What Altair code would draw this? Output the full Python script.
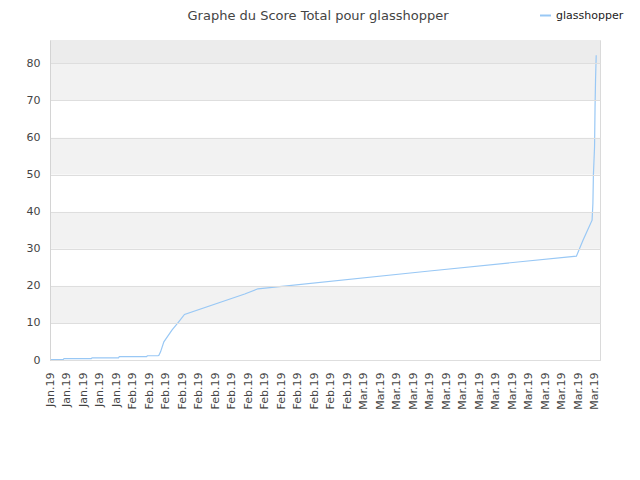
import altair as alt
import pandas as pd

# x tick labels (one per tick index)
tick_labels = ["Jan.19"] * 5 + ["Feb.19"] * 14 + ["Mar.19"] * 15

# score series (x in tick-index units, y = total score)
series_x = [0.0, 0.8, 0.85, 2.5, 2.55, 4.15, 4.2, 5.85, 5.9, 6.55, 6.6, 6.7, 6.9, 7.4, 7.8, 8.15,
            11.8, 12.6, 23.0, 28.5, 31.9, 32.3, 32.85, 32.9, 32.93, 33.0, 33.03, 33.06, 33.1]
series_y = [0.1, 0.1, 0.35, 0.35, 0.6, 0.6, 0.9, 0.9, 1.15, 1.15, 1.25, 2.2, 4.9, 8.1, 10.3, 12.3,
            17.8, 19.2, 24.0, 26.5, 28.0, 32.3, 37.7, 42.2, 49.9, 57.5, 68.3, 75.5, 82.2]
series_name = "glasshopper"

# background bands
band_lo = [0, 10, 20, 30, 40, 50, 60, 70, 80]
band_hi = [10, 20, 30, 40, 50, 60, 70, 80, 86.3]
band_col = ["#ffffff", "#f2f2f2", "#ffffff", "#f2f2f2", "#ffffff", "#f2f2f2", "#ffffff", "#f2f2f2", "#ececec"]
y_ticks = [0, 10, 20, 30, 40, 50, 60, 70, 80]

X_MAX = 33.33
Y_MAX = 86.3

line_df = pd.DataFrame({"x": series_x, "y": series_y, "name": series_name})
band_df = pd.DataFrame({"lo": band_lo, "hi": band_hi, "c": band_col})

label_expr = "[" + ",".join('"%s"' % s for s in tick_labels) + "][datum.value]"

xscale = alt.Scale(domain=[0, X_MAX], nice=False, zero=False)
yscale = alt.Scale(domain=[0, Y_MAX], nice=False)

yaxis = alt.Axis(values=y_ticks, title=None, ticks=False,
                 labelPadding=10, labelFontSize=11, labelColor="#444444",
                 labelFont="DejaVu Sans", grid=True, gridColor="#dedede",
                 labelOverlap=False, zindex=1,
                 domain=True, domainColor="#d4d4d4")

bands = alt.Chart(band_df).mark_rect().encode(
    x=alt.value(0), x2=alt.value(550),
    y=alt.Y("lo:Q", scale=yscale, axis=yaxis),
    y2="hi:Q",
    color=alt.Color("c:N", scale=None, legend=None),
)

line = alt.Chart(line_df).mark_line(strokeWidth=1.2, interpolate="linear").encode(
    x=alt.X("x:Q", scale=xscale,
            axis=alt.Axis(values=list(range(len(tick_labels))), labelExpr=label_expr,
                          labelAngle=-90, title=None, ticks=False, labelPadding=12,
                          labelFontSize=11, labelColor="#444444", labelFont="DejaVu Sans",
                          grid=False, domain=True, domainColor="#d4d4d4", labelOverlap=False)),
    y=alt.Y("y:Q", scale=yscale, axis=yaxis),
    color=alt.Color("name:N", scale=alt.Scale(range=["#99c8f5"]),
                    legend=alt.Legend(title=None, orient="none", legendX=489, legendY=-31,
                                      symbolType="stroke", symbolStrokeWidth=2, symbolSize=120,
                                      labelFontSize=11, labelFont="DejaVu Sans",
                                      labelColor="#222222")),
)

chart = alt.layer(bands, line).resolve_scale(color="independent").properties(
    width=550, height=320,
    title=alt.Title("Graphe du Score Total pour glasshopper", fontSize=13, font="DejaVu Sans",
                    fontWeight="normal", color="#444444", offset=-14, dx=-7, anchor="middle"),
    autosize=alt.AutoSizeParams(type="none"),
    padding={"left": 42, "top": 32, "right": 30, "bottom": 100},
).configure_view(stroke="#dadada", strokeWidth=1)

chart.save("out.html", embed_options={"renderer": "svg", "actions": False})
